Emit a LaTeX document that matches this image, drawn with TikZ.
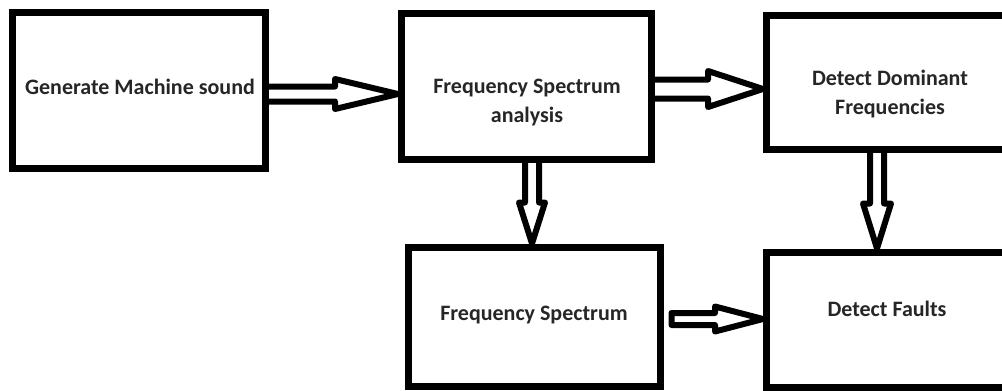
\documentclass[tikz,border=0pt]{standalone}
\usepackage{fontspec}
\setmainfont{Carlito}
\usetikzlibrary{calc}

\tikzset{
  box/.style={draw=black, line width=7pt, rectangle, inner sep=0pt},
  lbl/.style={inner sep=0pt, text=black!85, align=center,
    font=\fontsize{22}{29}\selectfont\bfseries},
  conn/.style={draw=black, line width=6pt, line join=round}
}

% hollow block arrow pointing right: start, target, shaft half width, head half width, head length
\newcommand\rightblock[5]{%
  \draw[conn] let \p1=(#1), \p2=(#2) in
    (\x1,\y1+#3) -- (\x2-#5,\y1+#3) -- (\x2-#5,\y1+#4) -- (\x2,\y1)
    -- (\x2-#5,\y1-#4) -- (\x2-#5,\y1-#3) -- (\x1,\y1-#3) -- cycle;}
% hollow block arrow pointing down
\newcommand\downblock[5]{%
  \draw[conn] let \p1=(#1), \p2=(#2) in
    (\x1+#3,\y1) -- (\x1+#3,\y2+#5) -- (\x1+#4,\y2+#5) -- (\x1,\y2)
    -- (\x1-#4,\y2+#5) -- (\x1-#3,\y2+#5) -- (\x1-#3,\y1) -- cycle;}

\begin{document}
\begin{tikzpicture}[x=1pt, y=1pt]
  \useasboundingbox (0,0) rectangle (1002,-391);
  \fill[white] (0,0) rectangle (1002,-391);
  \clip (0,0) rectangle (1002,-391);

  % process boxes
  \node[box, minimum width=252.5pt, minimum height=156pt] (gen) at (138.75,-90.5) {};
  \node[box, minimum width=250pt,   minimum height=146pt] (fsa) at (526.5,-86) {};
  \node[box, minimum width=247pt,   minimum height=134.5pt] (dom) at (890,-82.25) {};
  \node[box, minimum width=251.5pt, minimum height=139pt] (fs)  at (534.25,-316.5) {};
  \node[box, minimum width=241pt,   minimum height=135.5pt] (flt) at (887,-319.75) {};

  % box captions
  \node[lbl] (gen-t) at (140,-87.3) {Generate Machine sound};
  \node[lbl] (fsa-t) at (527,-102.5) {Frequency Spectrum\\analysis};
  \node[lbl] (dom-t) at (890,-94.5) {Detect Dominant\\Frequencies};
  \node[lbl] (fs-t)  at (534,-315) {Frequency Spectrum};
  \node[lbl] (flt-t) at (887,-309) {Detect Faults};

  % flow arrows
  \rightblock{[xshift=-3.5pt,yshift=-3.5pt]gen.east}{fsa.west}{7.5}{15}{63}
  \rightblock{[xshift=-3.5pt,yshift=-3pt]fsa.east}{dom.west}{9.5}{18}{55}
  \downblock{[xshift=5.5pt,yshift=3.5pt]fsa.south}{fs.north}{7}{13}{41}
  \downblock{[xshift=-13pt,yshift=3.5pt]dom.south}{flt.north}{7}{14}{45}
  \rightblock{[xshift=8pt,yshift=-2.5pt]fs.east}{flt.west}{6}{12.5}{48}
\end{tikzpicture}
\end{document}
